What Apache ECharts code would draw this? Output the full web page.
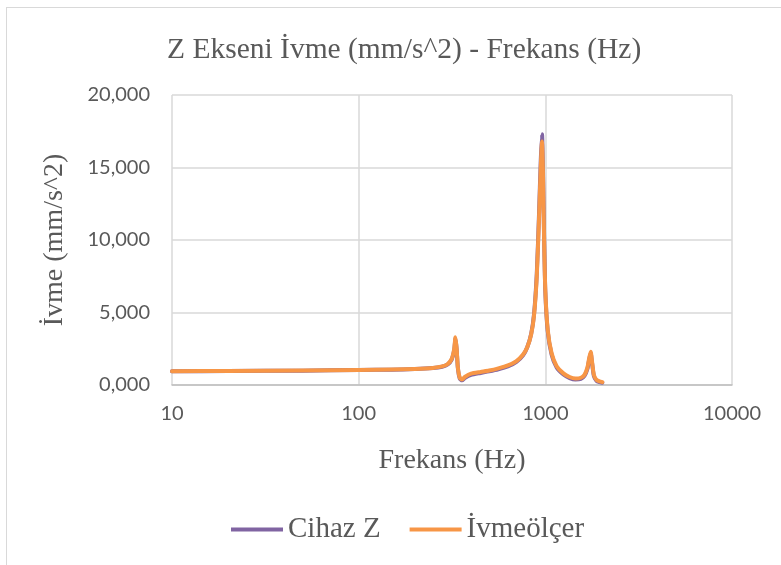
<!DOCTYPE html>
<html>
<head>
<meta charset="utf-8">
<script src="https://cdn.jsdelivr.net/npm/echarts@6/dist/echarts.min.js"></script>
<style>
  html, body { margin: 0; padding: 0; background: #fff; }
  #frame { position: absolute; left: 6px; top: 7px; width: 820px; height: 620px; border: 1px solid #d9d9d9; }
  #chart { position: absolute; left: 0; top: 0; width: 781px; height: 565px; }
</style>
</head>
<body>
<div id="frame"></div>
<div id="chart"></div>
<script>
// frekans noktaları (Hz)
const freqs = [
  10, 20, 50, 100, 150, 200, 250, 280, 300, 315, 325, 330, 335, 340, 348, 358,
  370, 400, 450, 500, 560, 630, 700, 760, 800, 840, 870, 900, 925, 945, 960,
  970, 985, 1000, 1030, 1080, 1150, 1250, 1350, 1450, 1550, 1620, 1680, 1720,
  1750, 1780, 1820, 1880, 1950, 2020
]
// Cihaz Z
const cihazZ = [
  940, 960, 990, 1030, 1060, 1100, 1170, 1260, 1420, 1750, 2400, 3200, 2450, 1150, 450, 320,
  480, 700, 830, 940, 1080, 1280, 1600, 2050, 2600, 3550, 4900, 7700, 11800, 15500, 17300,
  15300, 10200, 6400, 3700, 2100, 1200, 720, 480, 380, 420, 620, 1100, 1800,
  2200, 1500, 620, 290, 200, 160
]
// İvmeölçer
const ivmeolcer = [
  950, 970, 1000, 1040, 1070, 1110, 1180, 1280, 1450, 1800, 2500, 3300, 2500, 1200, 500, 380,
  550, 780, 900, 1000, 1150, 1350, 1650, 2100, 2600, 3500, 4800, 7500, 11500, 15000, 16800,
  15000, 10000, 6500, 3800, 2200, 1300, 800, 550, 450, 500, 700, 1200, 1900,
  2300, 1600, 700, 350, 250, 200
]

const serif = 'Liberation Serif'
const sans = 'Lato'
const textColor = '#595959'

const chart = echarts.init(document.getElementById('chart'))

const option = {
  backgroundColor: 'transparent',
  animation: false,
  textStyle: { fontFamily: serif },
  title: {
    text: 'Z Ekseni İvme (mm/s^2) - Frekans (Hz)',
    left: 162,
    top: 30,
    textStyle: { fontFamily: serif, fontSize: 29.5, fontWeight: 'normal', color: textColor }
  },
  legend: {
    bottom: 16,
    left: 226,
    itemWidth: 52,
    itemHeight: 4,
    itemGap: 29,
    icon: 'rect',
    textStyle: { fontFamily: serif, fontSize: 29, color: textColor },
    data: ['Cihaz Z', 'İvmeölçer']
  },
  grid: { left: 172, right: 49, top: 95, bottom: 180 },
  xAxis: {
    type: 'log',
    logBase: 10,
    min: 10,
    max: 10000,
    name: 'Frekans (Hz)',
    nameLocation: 'middle',
    nameGap: 62,
    nameTextStyle: { fontFamily: serif, fontSize: 28, color: textColor },
    axisLine: { show: true, lineStyle: { color: '#bfbfbf', width: 1.5 } },
    axisTick: { show: false },
    axisLabel: {
      fontFamily: sans, fontSize: 20, color: textColor, margin: 19,
      formatter: (v) => String(Math.round(v))
    },
    splitLine: { show: true, lineStyle: { color: '#d9d9d9', width: 1.5 } },
    minorSplitLine: { show: false }
  },
  yAxis: {
    type: 'value',
    min: 0,
    max: 20000,
    interval: 5000,
    name: 'İvme (mm/s^2)',
    nameLocation: 'middle',
    nameGap: 103,
    nameTextStyle: { fontFamily: serif, fontSize: 28, color: textColor },
    axisLine: { show: false },
    axisTick: { show: false },
    axisLabel: {
      fontFamily: sans, fontSize: 20, color: textColor, margin: 22,
      formatter: (v) => (v / 1000).toFixed(3).replace('.', ',')
    },
    splitLine: { lineStyle: { color: '#d9d9d9', width: 1.5 } }
  },
  series: [
    {
      name: 'Cihaz Z',
      type: 'line',
      data: freqs.map((f, i) => [f, cihazZ[i]]),
      showSymbol: false,
      smooth: 0.2,
      color: '#8064a2',
      lineStyle: { width: 4, color: '#8064a2', cap: 'round', join: 'round' }
    },
    {
      name: 'İvmeölçer',
      type: 'line',
      data: freqs.map((f, i) => [f, ivmeolcer[i]]),
      showSymbol: false,
      smooth: 0.2,
      color: '#f79646',
      lineStyle: { width: 4, color: '#f79646', cap: 'round', join: 'round' }
    }
  ]
}

chart.setOption(option)
</script>
</body>
</html>
